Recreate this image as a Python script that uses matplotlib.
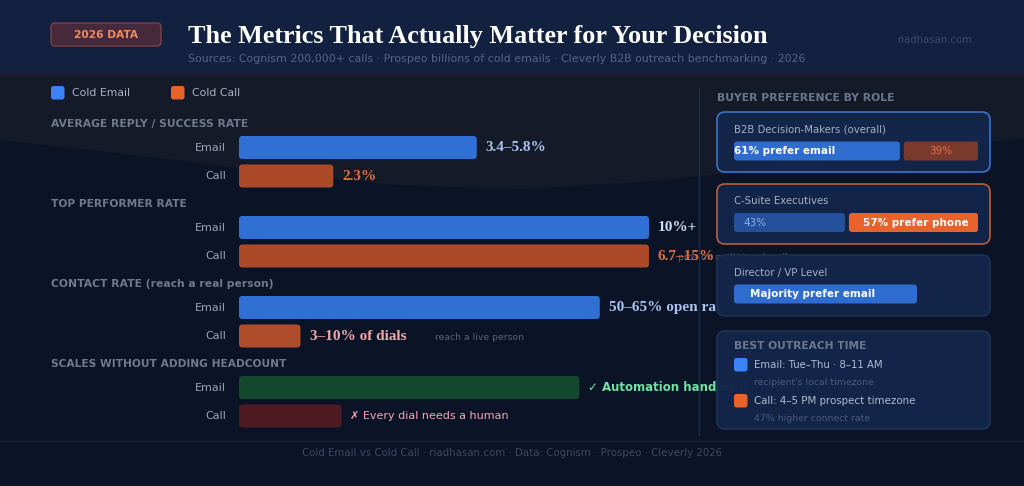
import matplotlib
matplotlib.use("Agg")
import matplotlib.pyplot as plt
from matplotlib.patches import FancyBboxPatch, Rectangle, Polygon

# ---------------- data ----------------
section_titles = ["AVERAGE REPLY / SUCCESS RATE", "TOP PERFORMER RATE",
                  "CONTACT RATE (reach a real person)", "SCALES WITHOUT ADDING HEADCOUNT"]
row_names = ["Email", "Call"]
email_values = [58, 100, 88, 83]     # bar length, % of track
call_values = [23, 100, 15, 25]
email_labels = ["3.4–5.8%", "10%+", "50–65% open rate", "✓ Automation handles it"]
call_labels = ["2.3%", "6.7–15%", "3–10% of dials", "✗ Every dial needs a human"]
call_notes = ["", "pros on multi-touch calls", "reach a live person", ""]

roles = ["B2B Decision-Makers (overall)", "C-Suite Executives", "Director / VP Level"]
role_email_share = [68, 45.5, 75]
role_call_share = [30.5, 53, 0]
role_email_text = ["61% prefer email", "43%", "Majority prefer email"]
role_call_text = ["39%", "57% prefer phone", ""]

best_times = ["Email: Tue–Thu · 8–11 AM", "Call: 4–5 PM prospect timezone"]
best_notes = ["recipient's local timezone", "47% higher connect rate"]
legend_names = ["Cold Email", "Cold Call"]

# ---------------- style ----------------
W, H = 1024, 486
SANS = "DejaVu Sans"
SERIF = "Liberation Serif"
BG_LOW = "#0b1426"
BG_UP = "#141a27"
HEAD = "#12213f"
BLUE = "#3b82f6"
ORANGE = "#e8622c"

fig = plt.figure(figsize=(W / 100, H / 100), dpi=100)
fig.patch.set_facecolor(BG_LOW)

def pixel_axes(z):
    a = fig.add_axes([0, 0, 1, 1])
    a.set_xlim(0, W); a.set_ylim(H, 0); a.axis("off")
    a.set_zorder(z)
    a.patch.set_alpha(0)
    return a

bg = pixel_axes(0)

to_fit = []
def T(ax, x, y, s, w=None, size=8, color="#ffffff", family=SANS, weight="normal",
      ha="left", va="center", z=5, **kw):
    t = ax.text(x, y, s, fontsize=size, color=color, family=family, weight=weight,
                ha=ha, va=va, zorder=z, clip_on=False, **kw)
    if w:
        to_fit.append((t, w))
    return t

def rbox(ax, x, y, w, h, r, fc, ec="none", lw=1, z=2, alpha=1, aspect=1):
    p = FancyBboxPatch((x, y), w, h, boxstyle=f"round,pad=0,rounding_size={r}",
                       fc=fc, ec=ec, lw=lw, zorder=z, alpha=alpha,
                       mutation_aspect=aspect)
    ax.add_patch(p)
    return p

# background regions
bg.add_patch(Polygon([(0, 74), (W, 74), (W, 138), (900, 152), (760, 170), (640, 182),
                      (520, 189), (400, 185), (300, 176), (200, 163), (100, 151), (0, 140)],
                     closed=True, fc=BG_UP, ec="none", zorder=0))
bg.add_patch(Rectangle((0, 0), W, 74, fc=HEAD, ec="none", zorder=1))
bg.plot([0, W], [74.5, 74.5], color="#231f30", lw=1.5, zorder=1)

# header
rbox(bg, 51, 23, 110, 23, 4, "#46293a", ec="#7b4146", lw=1, z=2)
T(bg, 106, 35, "2026 DATA", w=64, size=7.5, color="#f08a60", weight="bold", ha="center")
T(bg, 188, 36, "The Metrics That Actually Matter for Your Decision", w=583, size=18.5,
  color="#ffffff", family=SERIF, weight="bold")
T(bg, 188, 58.5, "Sources: Cognism 200,000+ calls · Prospeo billions of cold emails · "
  "Cleverly B2B outreach benchmarking · 2026", w=620, size=7.5, color="#56647f")
T(bg, 897, 40, "riadhasan.com", w=75, size=7, color="#3b4a68")

# legend
for lx, c, name, lw_ in [(51, BLUE, legend_names[0], 58), (171, ORANGE, legend_names[1], 48)]:
    rbox(bg, lx, 86, 13.5, 13.5, 2.5, c, z=3)
    T(bg, lx + 21, 92.5, name, w=lw_, size=8, color="#aab3c5")

# ---------------- left bar chart ----------------
bx = fig.add_axes([239 / W, 0, 410 / W, 1])
bx.set_xlim(0, 100); bx.set_ylim(H, 0); bx.axis("off")
bx.set_zorder(1)
ASPECT = (410 / 100) / 1.0

def rounded_barh(ax, y, widths, height, colors, left=0, rpx=3.5, aspect=ASPECT):
    bars = ax.barh(y, widths, height=height, left=left, color=colors)
    for b in bars:
        x0, y0 = b.get_x(), b.get_y()
        w, h = b.get_width(), b.get_height()
        fc = b.get_facecolor()
        b.remove()
        if w <= 0:
            continue
        ax.add_patch(FancyBboxPatch((x0, y0), w, h,
                                    boxstyle=f"round,pad=0,rounding_size={rpx / aspect}",
                                    mutation_aspect=aspect, fc=fc, ec="none", zorder=3))

head_y = [124 + 80 * i for i in range(4)]
email_y = [h + 23.5 for h in head_y]
call_y = [h + 52 for h in head_y]
head_w = [196, 136, 222, 236]
for i, s in enumerate(section_titles):
    T(bg, 51, head_y[i], s, w=head_w[i], size=7.5, color="#6f7a90", weight="bold")
    T(bg, 226, email_y[i], row_names[0], size=8, color="#9aa4b6", ha="right")
    T(bg, 226, call_y[i], row_names[1], size=8, color="#9aa4b6", ha="right")

email_colors = ["#3070d4", "#3070d4", "#3070d4", "#13472e"]
call_colors = ["#aa4a29", "#aa4a29", "#ae4d2b", "#4e1b23"]
rounded_barh(bx, email_y, email_values, 23, email_colors)
rounded_barh(bx, call_y, call_values, 23, call_colors)

email_lab_col = ["#a9c4f0", "#cddcf7", "#a9c4f0", "#6fe3a3"]
call_lab_col = ["#e2703c", "#db703f", "#f3a8a8", "#f2a5b4"]
for i in range(4):
    last = i == 3
    bx.annotate(email_labels[i], xy=(email_values[i], email_y[i]), xytext=(9, 0),
                textcoords="offset pixels", va="center", ha="left",
                color=email_lab_col[i], fontsize=8.5 if last else 11,
                family=SANS if last else SERIF, weight="bold", zorder=4,
                annotation_clip=False)
    bx.annotate(call_labels[i], xy=(call_values[i], call_y[i]), xytext=(9, 0),
                textcoords="offset pixels", va="center", ha="left",
                color=call_lab_col[i], fontsize=8 if last else 11,
                family=SANS if last else SERIF, weight="normal" if last else "bold",
                zorder=4, annotation_clip=False)

note_x = [None, 678, 435, None]
for i, n in enumerate(call_notes):
    if n:
        T(bg, note_x[i], call_y[i] + 1, n, size=6.7, color="#56627a", z=4)

# ---------------- right panel (overlay) ----------------
ov = pixel_axes(2)
ov.plot([699, 699], [88, 435], color="#1b2a45", lw=1, zorder=2)
T(ov, 717, 98, "BUYER PREFERENCE BY ROLE", w=176, size=7.5, color="#6b778e", weight="bold")

cards = [(112, 172, "#3a74cc"), (184, 244, "#b9603b"), (255, 316, "#1e3256"), (331, 429, "#1e3256")]
for y0, y1, ec in cards:
    rbox(ov, 717, y0, 273, y1 - y0, 8, "#13264a", ec=ec, lw=1.2, z=6, alpha=0.985)

px = fig.add_axes([734 / W, 0, 244 / W, 1])
px.set_xlim(0, 100); px.set_ylim(H, 0); px.axis("off")
px.set_zorder(3)
P_ASPECT = (244 / 100)
role_y = [151, 222.5, 294]
role_title_y = [129.5, 201, 272.5]
gap = 1.6
rounded_barh(px, role_y, role_email_share, 19, ["#2f6ccf", "#24509c", "#2f6ccf"],
             rpx=3, aspect=P_ASPECT)
call_left = [s + gap for s in role_email_share]
rounded_barh(px, role_y, role_call_share, 19, ["#7a3a2b", "#e8622c", "#e8622c"],
             left=call_left, rpx=3, aspect=P_ASPECT)

title_w = [153, 95, 94]
email_txt_dx = [0, 9, 16]
email_txt_col = ["#ffffff", "#8fb3ee", "#ffffff"]
email_txt_wt = ["bold", "normal", "bold"]
for i in range(3):
    T(ov, 734, role_title_y[i], roles[i], w=title_w[i], size=8, color="#a6b0c4", z=8)
    px.annotate(role_email_text[i], xy=(0, role_y[i]), xytext=(email_txt_dx[i], 0),
                textcoords="offset pixels", va="center", ha="left", fontsize=7.5,
                color=email_txt_col[i], weight=email_txt_wt[i], family=SANS, zorder=9,
                annotation_clip=False)
    if role_call_text[i]:
        if i == 0:
            px.annotate(role_call_text[i], xy=(call_left[i] + role_call_share[i] / 2, role_y[i]),
                        va="center", ha="center", fontsize=7.5, color="#e0704f",
                        family=SANS, zorder=9, annotation_clip=False)
        else:
            px.annotate(role_call_text[i], xy=(call_left[i], role_y[i]), xytext=(14, 0),
                        textcoords="offset pixels", va="center", ha="left", fontsize=7.5,
                        color="#ffffff", weight="bold", family=SANS, zorder=9,
                        annotation_clip=False)

T(ov, 734, 346, "BEST OUTREACH TIME", w=132, size=7.5, color="#6b778e", weight="bold", z=8)
bt_y = [365, 401]
bt_c = [BLUE, ORANGE]
bt_w = [130, 161]
bn_w = [120, 117]
for i in range(2):
    rbox(ov, 734, bt_y[i] - 7, 13.5, 13.5, 2.5, bt_c[i], z=8)
    T(ov, 754, bt_y[i], best_times[i], w=bt_w[i], size=8, color="#b0bbce", z=8)
    T(ov, 754, bt_y[i] + 17, best_notes[i], w=bn_w[i], size=7, color="#4a5873", z=8)

# footer
bg.plot([0, W], [441, 441], color="#16213a", lw=1, zorder=2)
T(bg, 512, 453, "Cold Email vs Cold Call · riadhasan.com · Data: Cognism · Prospeo · Cleverly 2026",
  w=420, size=7, color="#3b4862", ha="center")

# fit text widths
fig.canvas.draw()
r = fig.canvas.get_renderer()
for t, w in to_fit:
    bb = t.get_window_extent(r)
    if bb.width > 0:
        t.set_fontsize(t.get_fontsize() * w / bb.width)

fig.savefig("out.png", dpi=100, facecolor=fig.get_facecolor())
